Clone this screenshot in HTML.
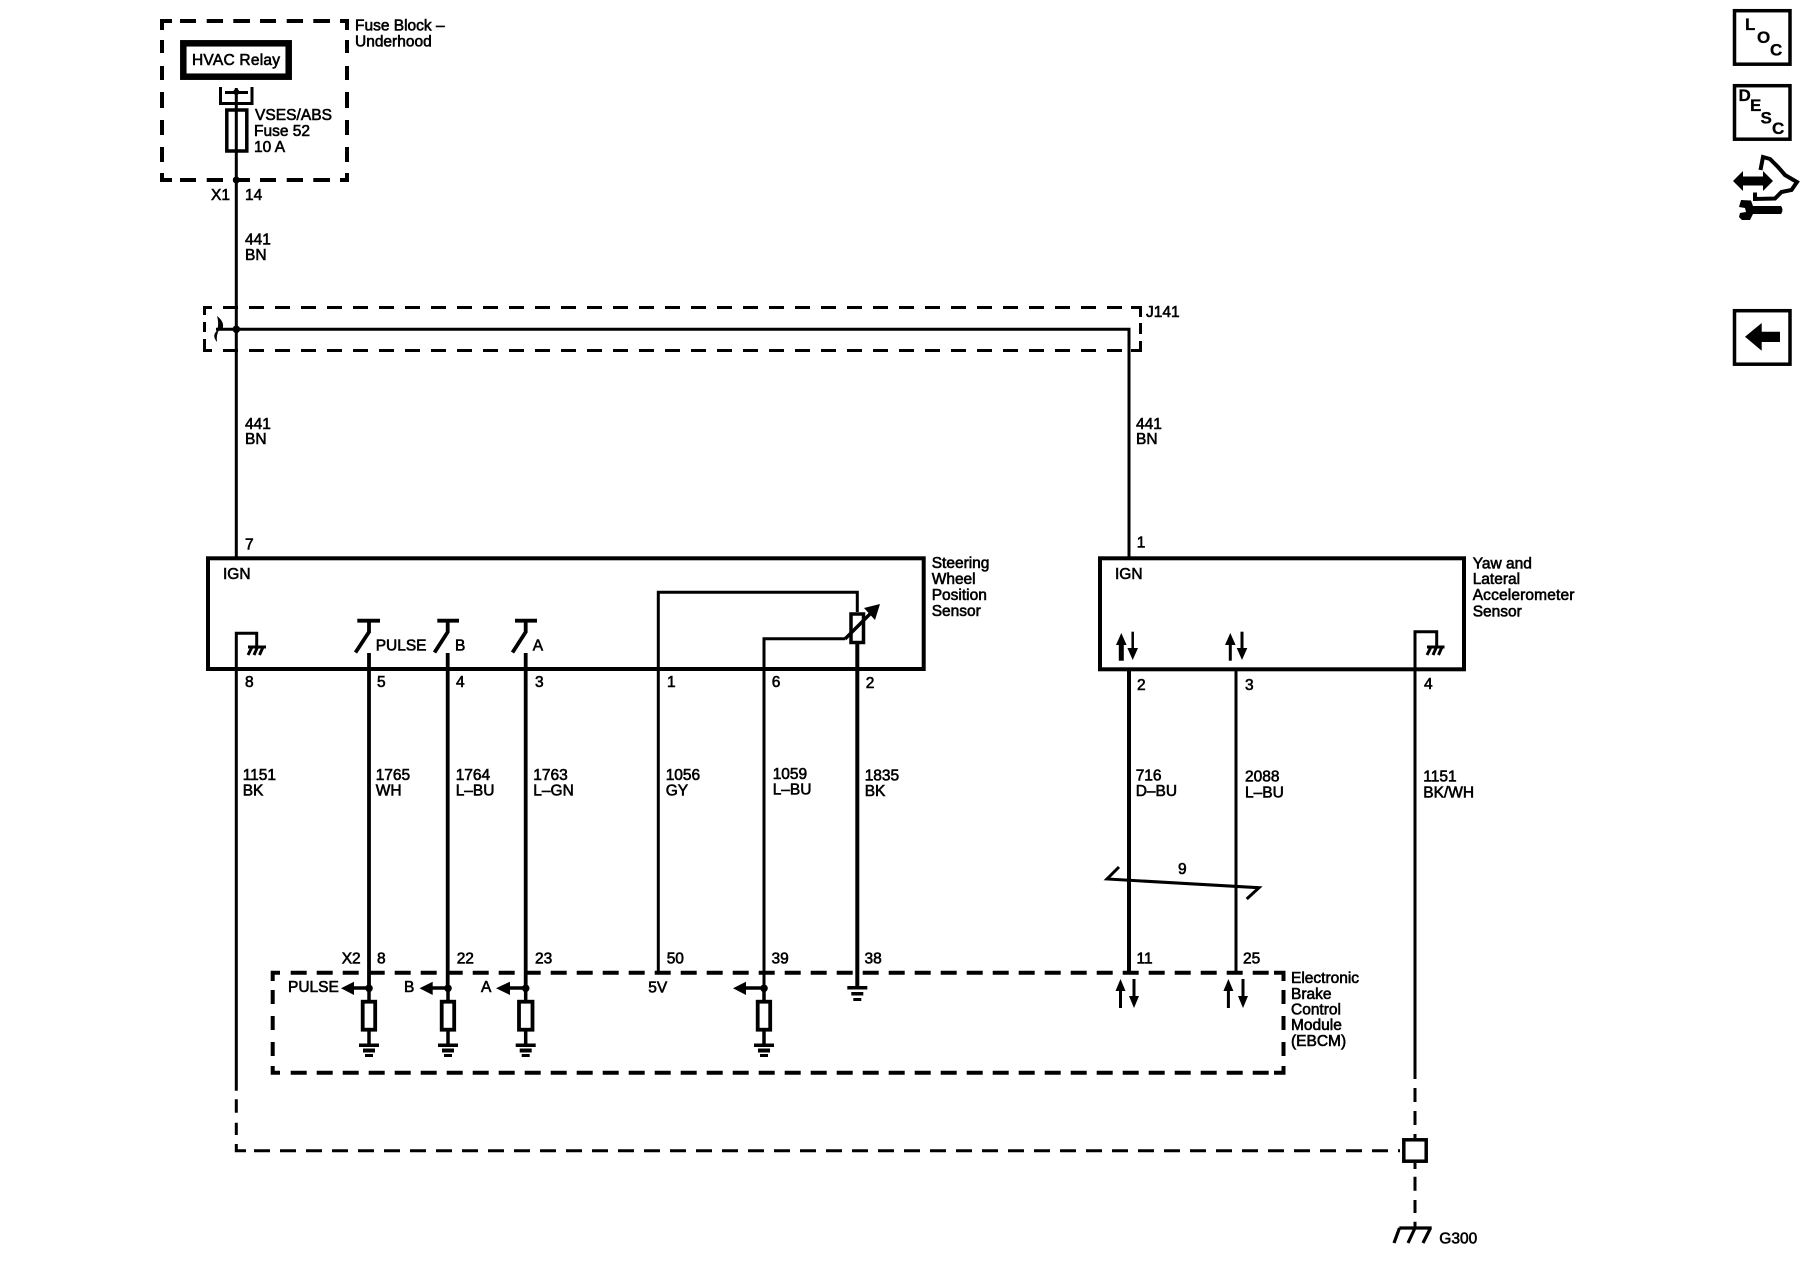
<!DOCTYPE html>
<html>
<head>
<meta charset="utf-8">
<title>Wiring diagram</title>
<style>
html,body{margin:0;padding:0;background:#fff;width:1800px;height:1280px;overflow:hidden}
svg{display:block}
text{font-family:"Liberation Sans",Arial,sans-serif;font-size:15.5px;fill:#000;stroke:#000;stroke-width:.6px}
.b{font-weight:bold;font-size:17px;stroke-width:.3px}
.s{fill:none;stroke:#000;stroke-width:3}
.d{fill:none;stroke:#000;stroke-width:4}
.f{fill:#000;stroke:none}
</style>
</head>
<body>
<svg width="1800" height="1280" viewBox="0 0 1800 1280" xmlns="http://www.w3.org/2000/svg">
<rect width="1800" height="1280" fill="#fff"/>

<!-- Fuse block dashed box -->
<path class="d" d="M162 30V21H172M180 21H196M206.700 21H223M233.300 21H250M260 21H276M286.700 21H303M313.300 21H330M340 21H347V30M162 40V53M162 66V80M162 92V108M162 120V135M162 147V162M162 173V180H172M180 180H196M206.700 180H223M233.300 180H250M260 180H276M286.700 180H303M313.300 180H330M340 180H347V173M347 40V53M347 66V80M347 92V108M347 120V135M347 147V162"/>
<rect x="183.300" y="43.300" width="105.400" height="33.400" fill="#fff" stroke="#000" stroke-width="6.500"/>
<path class="s" d="M220.500 87V103.500H252V87M225 92.500H248M236.300 88V557"/>
<circle class="f" cx="236.300" cy="92" r="3"/>
<rect x="226.800" y="110" width="20" height="41" fill="none" stroke="#000" stroke-width="3.500"/>
<circle class="f" cx="236.300" cy="180" r="3.500"/>
<text x="355" y="30.500">Fuse Block –</text>
<text x="355" y="46.500">Underhood</text>
<text x="192" y="65" textLength="88">HVAC Relay</text>
<text x="255" y="120" textLength="77">VSES/ABS</text>
<text x="254" y="136">Fuse 52</text>
<text x="254" y="152">10 A</text>
<text x="211" y="200">X1</text>
<text x="245" y="200">14</text>
<text x="245" y="244.700">441</text>
<text x="245" y="260">BN</text>

<!-- J141 -->
<path class="s" d="M212 307.500H204.500V315M204.500 322V332M204.500 339V350.500H212"/>
<path class="s" stroke-dasharray="15 11" d="M223 307.500H1130"/>
<path class="s" stroke-dasharray="15 11" d="M223 350.500H1130"/>
<path class="s" d="M1131 307.500H1140.500V317M1140.500 323V334M1140.500 341V350.500H1131"/>
<path class="s" d="M216 329.300H1129V557"/>
<circle class="f" cx="236.300" cy="329.300" r="3.800"/>
<path class="f" d="M217 316Q225 322 222.500 329H217.500Q219 323 217 316ZM218 330Q211 335 217 342Q216 335 219 330Z"/>
<text x="1146" y="317">J141</text>
<text x="245" y="429">441</text>
<text x="245" y="444">BN</text>
<text x="1136" y="429">441</text>
<text x="1136" y="444">BN</text>

<!-- Steering Wheel Position Sensor -->
<rect x="208" y="558.300" width="715.700" height="110.700" fill="none" stroke="#000" stroke-width="4"/>
<text x="245" y="549.500">7</text>
<text x="223" y="579">IGN</text>
<text x="931.700" y="568">Steering</text>
<text x="931.700" y="584">Wheel</text>
<text x="931.700" y="600">Position</text>
<text x="931.700" y="616">Sensor</text>

<path class="s" d="M236.300 669V633.300H256.700V647"/>
<path d="M248 647H266M252 647L248 655M257.500 647L254 655M263 647L259.500 655" fill="none" stroke="#000" stroke-width="3"/>
<path class="s" style="stroke-width:3.800" d="M357.300 620.700H380M369 620.700V632L355.500 652.500M369 653V988"/>
<path class="s" style="stroke-width:3.800" d="M437.300 620.700H459M447.700 620.700V632L434.500 652.500M447.700 653V988"/>
<path class="s" style="stroke-width:3.800" d="M515 620.700H537M525.700 620.700V632L512.500 652.500M525.700 653V988"/>
<text x="375.700" y="650.300">PULSE</text>
<text x="455" y="650.300">B</text>
<text x="532.700" y="650.300">A</text>

<path class="s" d="M658.300 973V592.300H857.300V612"/>
<path class="s" d="M764 988V638.700H845"/>
<rect x="851" y="614" width="12.500" height="28.500" fill="none" stroke="#000" stroke-width="3.500"/>
<path class="s" style="stroke-width:3.500" d="M845 639L873 611"/>
<path class="f" d="M880 604L864 608L875 620Z"/>
<path d="M857.300 644V986" fill="none" stroke="#000" stroke-width="4"/>

<text x="245" y="687">8</text>
<text x="377" y="687">5</text>
<text x="456" y="687">4</text>
<text x="535" y="687">3</text>
<text x="667" y="687">1</text>
<text x="771.700" y="687">6</text>
<text x="865.700" y="688">2</text>

<text x="242.700" y="780">1151</text><text x="242.700" y="795.300">BK</text>
<text x="375.700" y="780">1765</text><text x="375.700" y="795.300">WH</text>
<text x="455.700" y="780">1764</text><text x="455.700" y="795.300">L–BU</text>
<text x="533.300" y="780">1763</text><text x="533.300" y="795.300">L–GN</text>
<text x="665.700" y="780">1056</text><text x="665.700" y="795.300">GY</text>
<text x="772.700" y="779">1059</text><text x="772.700" y="794.700">L–BU</text>
<text x="864.700" y="780.700">1835</text><text x="864.700" y="796">BK</text>

<!-- Yaw sensor -->
<rect x="1100" y="558.300" width="364" height="111" fill="none" stroke="#000" stroke-width="4"/>
<text x="1136.700" y="547.300">1</text>
<text x="1115" y="579">IGN</text>
<text x="1472.700" y="568.300">Yaw and</text>
<text x="1472.700" y="584">Lateral</text>
<text x="1472.700" y="600" textLength="101.700">Accelerometer</text>
<text x="1472.700" y="616.700">Sensor</text>
<path d="M1121.300 660.700V642" fill="none" stroke="#000" stroke-width="5"/>
<path class="f" d="M1121.300 633L1116 645H1126.600Z"/>
<path d="M1132.700 631.700V650" fill="none" stroke="#000" stroke-width="2.500"/>
<path class="f" d="M1132.700 660L1127.400 648H1138Z"/>
<path d="M1230.300 660.700V642" fill="none" stroke="#000" stroke-width="3"/>
<path class="f" d="M1230.300 633L1225 645H1235.600Z"/>
<path d="M1242 631.700V650" fill="none" stroke="#000" stroke-width="3"/>
<path class="f" d="M1242 660L1236.700 648H1247.300Z"/>
<path class="s" d="M1415 1079V631.700H1436.700V647M1415 1088V1102M1415 1111V1125"/>
<path d="M1427 647H1444.500M1431 647L1427 655M1436.500 647L1433 655M1442 647L1438.500 655" fill="none" stroke="#000" stroke-width="3"/>

<path d="M1129 669V973" fill="none" stroke="#000" stroke-width="4"/>
<path class="s" d="M1236 669V973"/>
<text x="1137" y="690">2</text>
<text x="1245" y="690">3</text>
<text x="1424" y="689">4</text>
<text x="1135.700" y="780.700">716</text><text x="1135.700" y="796">D–BU</text>
<text x="1245" y="781.700">2088</text><text x="1245" y="797.300">L–BU</text>
<text x="1423.300" y="781.700">1151</text><text x="1423.300" y="797.300">BK/WH</text>

<!-- twist -->
<path class="s" d="M1119 867L1107 879L1259 887.700L1246.700 899"/>
<text x="1178" y="874">9</text>

<!-- EBCM dashed -->
<path class="d" d="M280 972.700H272.700V981M272.700 990V1004M272.700 1016V1030M272.700 1042V1056M272.700 1066V1072.700H280"/>
<path class="d" stroke-dasharray="16 10" d="M290.700 972.700H1270"/>
<path class="d" stroke-dasharray="16 10" d="M290.700 1072.700H1270"/>
<path class="d" d="M1274 972.700H1283.500V981M1283.500 990V1004M1283.500 1016V1030M1283.500 1042V1056M1283.500 1066V1072.700H1274"/>
<text x="341.700" y="963.700">X2</text>
<text x="377" y="963.700">8</text>
<text x="456.700" y="963.700">22</text>
<text x="535" y="963.700">23</text>
<text x="666.700" y="963.700">50</text>
<text x="771.500" y="963.700">39</text>
<text x="864.500" y="963.700">38</text>
<text x="1136.500" y="963.700">11</text>
<text x="1243" y="963.700">25</text>
<text x="288" y="992">PULSE</text>
<text x="404" y="992">B</text>
<text x="481" y="992">A</text>
<text x="648.300" y="992.700">5V</text>
<text x="1291" y="983">Electronic</text>
<text x="1291" y="999">Brake</text>
<text x="1291" y="1014.500">Control</text>
<text x="1291" y="1030">Module</text>
<text x="1291" y="1046">(EBCM)</text>

<!-- EBCM inputs -->
<g fill="none" stroke="#000" stroke-width="3.500">
<path d="M369 988V1000M369 1031V1045M345 988H369"/>
<path d="M448 988V1000M448 1031V1045M432 988H448"/>
<path d="M525.700 988V1000M525.700 1031V1045M510 988H525.700"/>
<path d="M764 988V1000M764 1031V1045M743 988H764"/>
</g>
<g class="f">
<circle cx="369" cy="988.300" r="3.800"/><circle cx="448" cy="988.300" r="3.800"/><circle cx="525.700" cy="988.300" r="3.800"/><circle cx="764" cy="988.300" r="3.800"/>
<path d="M341 988.300L354 981.700V995Z"/>
<path d="M419.500 988.300L432.700 981.700V995Z"/>
<path d="M496 988.300L510 981.700V995Z"/>
<path d="M733 988.300L746 981.700V995Z"/>
</g>
<g fill="#fff" stroke="#000" stroke-width="3.800">
<rect x="362.700" y="1001.700" width="12.500" height="28"/>
<rect x="441.700" y="1001.700" width="12.500" height="28"/>
<rect x="519" y="1001.700" width="13.500" height="28"/>
<rect x="757.700" y="1001.700" width="12.500" height="28"/>
</g>
<g class="f">
<rect x="359" y="1043.500" width="20" height="3.500"/><rect x="363" y="1048.500" width="12" height="4"/><rect x="365" y="1054" width="8" height="3"/>
<rect x="438" y="1043.500" width="20" height="3.500"/><rect x="442" y="1048.500" width="12" height="4"/><rect x="444" y="1054" width="8" height="3"/>
<rect x="515.700" y="1043.500" width="20" height="3.500"/><rect x="519.700" y="1048.500" width="12" height="4"/><rect x="521.700" y="1054" width="8" height="3"/>
<rect x="754" y="1043.500" width="20" height="3.500"/><rect x="758" y="1048.500" width="12" height="4"/><rect x="760" y="1054" width="8" height="3"/>
<rect x="847.300" y="986" width="20" height="3.500"/><rect x="851.300" y="992" width="12" height="3.500"/><rect x="853.300" y="998" width="8" height="3"/>
</g>
<path class="s" d="M1120.500 1008V988M1134 979V999M1228.400 1008V988M1243 979V999"/>
<g class="f">
<path d="M1120.500 979L1115.500 991H1125.500Z"/><path d="M1134 1008L1129 996H1139Z"/>
<path d="M1228.400 979L1223.400 991H1233.400Z"/><path d="M1243 1008L1238 996H1248Z"/>
</g>

<!-- bottom ground wires -->
<path class="s" d="M236.300 669V1090.700M236.300 1099.300V1112.700M236.300 1122.700V1135M236.300 1144V1150.700H246"/>
<path class="s" stroke-dasharray="16 10" d="M254 1150.700H1400"/>
<path class="s" d="M1415 1134V1138M1415 1163V1169M1415 1176.700V1190.700M1415 1200V1213M1415 1221.700V1228"/>
<rect x="1403.800" y="1139.800" width="22.400" height="21.400" fill="#fff" stroke="#000" stroke-width="3.500"/>
<path d="M1399.300 1228H1431.700M1399.500 1228L1394 1243M1415 1228L1408 1243M1430.500 1228L1423 1243" fill="none" stroke="#000" stroke-width="3.200"/>
<text x="1439.300" y="1243.300">G300</text>

<!-- Right icons -->
<rect x="1734.500" y="10.700" width="55.500" height="53.500" fill="none" stroke="#000" stroke-width="3.500"/>
<text class="b" x="1745" y="30">L</text>
<text class="b" x="1757" y="43">O</text>
<text class="b" x="1770" y="55.700">C</text>
<rect x="1734.500" y="85.700" width="55.500" height="53.500" fill="none" stroke="#000" stroke-width="3.500"/>
<text class="b" x="1738.500" y="101">D</text>
<text class="b" x="1750" y="111">E</text>
<text class="b" x="1760.500" y="123.300">S</text>
<text class="b" x="1772" y="134">C</text>

<path class="f" d="M1733 181L1743 171V176.500H1763V171L1773 181L1763 191V185.500H1743V191Z"/>
<path d="M1760.500 170L1763 157L1770 159L1778 167L1785 175L1797 182L1791.500 190L1781.500 192L1775 198.500L1755 199V192.500" fill="none" stroke="#000" stroke-width="4"/>
<path class="f" d="M1741 200L1751 200.500L1753 206H1781Q1784 210 1781 214H1753L1750 220H1742L1739 217L1740 213L1746 212L1745 208L1739 207Z"/>

<rect x="1734.500" y="310.700" width="55.500" height="53.500" fill="none" stroke="#000" stroke-width="3.500"/>
<path class="f" d="M1745 336.700L1761.700 323V331.700H1780V342H1761.700V350.700Z"/>
</svg>
</body>
</html>
